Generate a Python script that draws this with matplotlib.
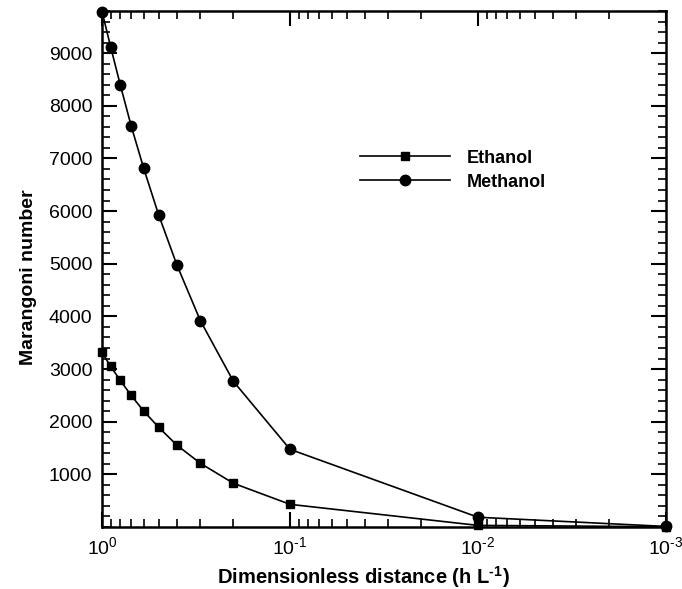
import numpy as np
import matplotlib.pyplot as plt
from matplotlib.ticker import FixedLocator, FixedFormatter, MultipleLocator, LogLocator, NullFormatter

plt.rcParams['font.family'] = ['Liberation Sans', 'DejaVu Sans']
plt.rcParams['mathtext.fontset'] = 'custom'
plt.rcParams['mathtext.rm'] = 'Liberation Sans'
plt.rcParams['mathtext.bf'] = 'Liberation Sans:bold'
plt.rcParams['axes.unicode_minus'] = False

# dimensionless distance h/L
distance = [1.0, 0.9, 0.8, 0.7, 0.6, 0.5, 0.4, 0.3, 0.2, 0.1, 0.01, 0.001]
ethanol = [3315, 3050, 2785, 2500, 2200, 1895, 1555, 1210, 830, 430, 30, 5]
methanol = [9790, 9120, 8400, 7620, 6810, 5930, 4980, 3920, 2765, 1475, 185, 10]

x_ticks = [1, 0.1, 0.01, 0.001]
x_ticklabels = ['$10^{0}$', '$10^{\u2010 1}$', '$10^{\u2010 2}$', '$10^{\u2010 3}$']

fig = plt.figure(figsize=(6.82, 5.89), dpi=100)
ax = fig.add_axes([0.1496, 0.1053, 0.8269, 0.876])

ax.plot(distance, ethanol, color='black', lw=1.2, marker='s', ms=6,
        label='Ethanol', clip_on=False, zorder=3)
ax.plot(distance, methanol, color='black', lw=1.2, marker='o', ms=7.5,
        label='Methanol', clip_on=False, zorder=3)

ax.set_xscale('log')
ax.set_xlim(1, 0.001)
ax.set_ylim(0, 9800)
ax.xaxis.set_major_locator(FixedLocator(x_ticks))
ax.xaxis.set_major_formatter(FixedFormatter(x_ticklabels))
ax.xaxis.set_minor_locator(LogLocator(base=10, subs=np.arange(2, 10)))
ax.xaxis.set_minor_formatter(NullFormatter())
ax.yaxis.set_major_locator(FixedLocator(range(1000, 10000, 1000)))
ax.yaxis.set_minor_locator(MultipleLocator(200))

ax.tick_params(which='both', direction='in', top=True, right=True,
               labelsize=14, width=1.2)
ax.tick_params(which='major', length=11, width=1.5, pad=7)
ax.tick_params(which='minor', length=6)
for s in ax.spines.values():
    s.set_linewidth(1.8)

ax.set_xlabel('Dimensionless distance (h L$^{\\mathbf{\u2010 1}}$)', fontsize=14.5,
              fontweight='bold')
ax.set_ylabel('Marangoni number', fontsize=14, fontweight='bold')
ax.xaxis.set_label_coords(0.464, -0.072)
ax.yaxis.set_label_coords(-0.115, 0.485)

ax.legend(loc='center left', bbox_to_anchor=(0.528, 0.711),
          bbox_transform=fig.transFigure, frameon=False, borderpad=0,
          borderaxespad=0, handlelength=5.0, handletextpad=0.9,
          labelspacing=0.38, prop={'weight': 'bold', 'size': 13})

fig.savefig('out.png', dpi=100)
